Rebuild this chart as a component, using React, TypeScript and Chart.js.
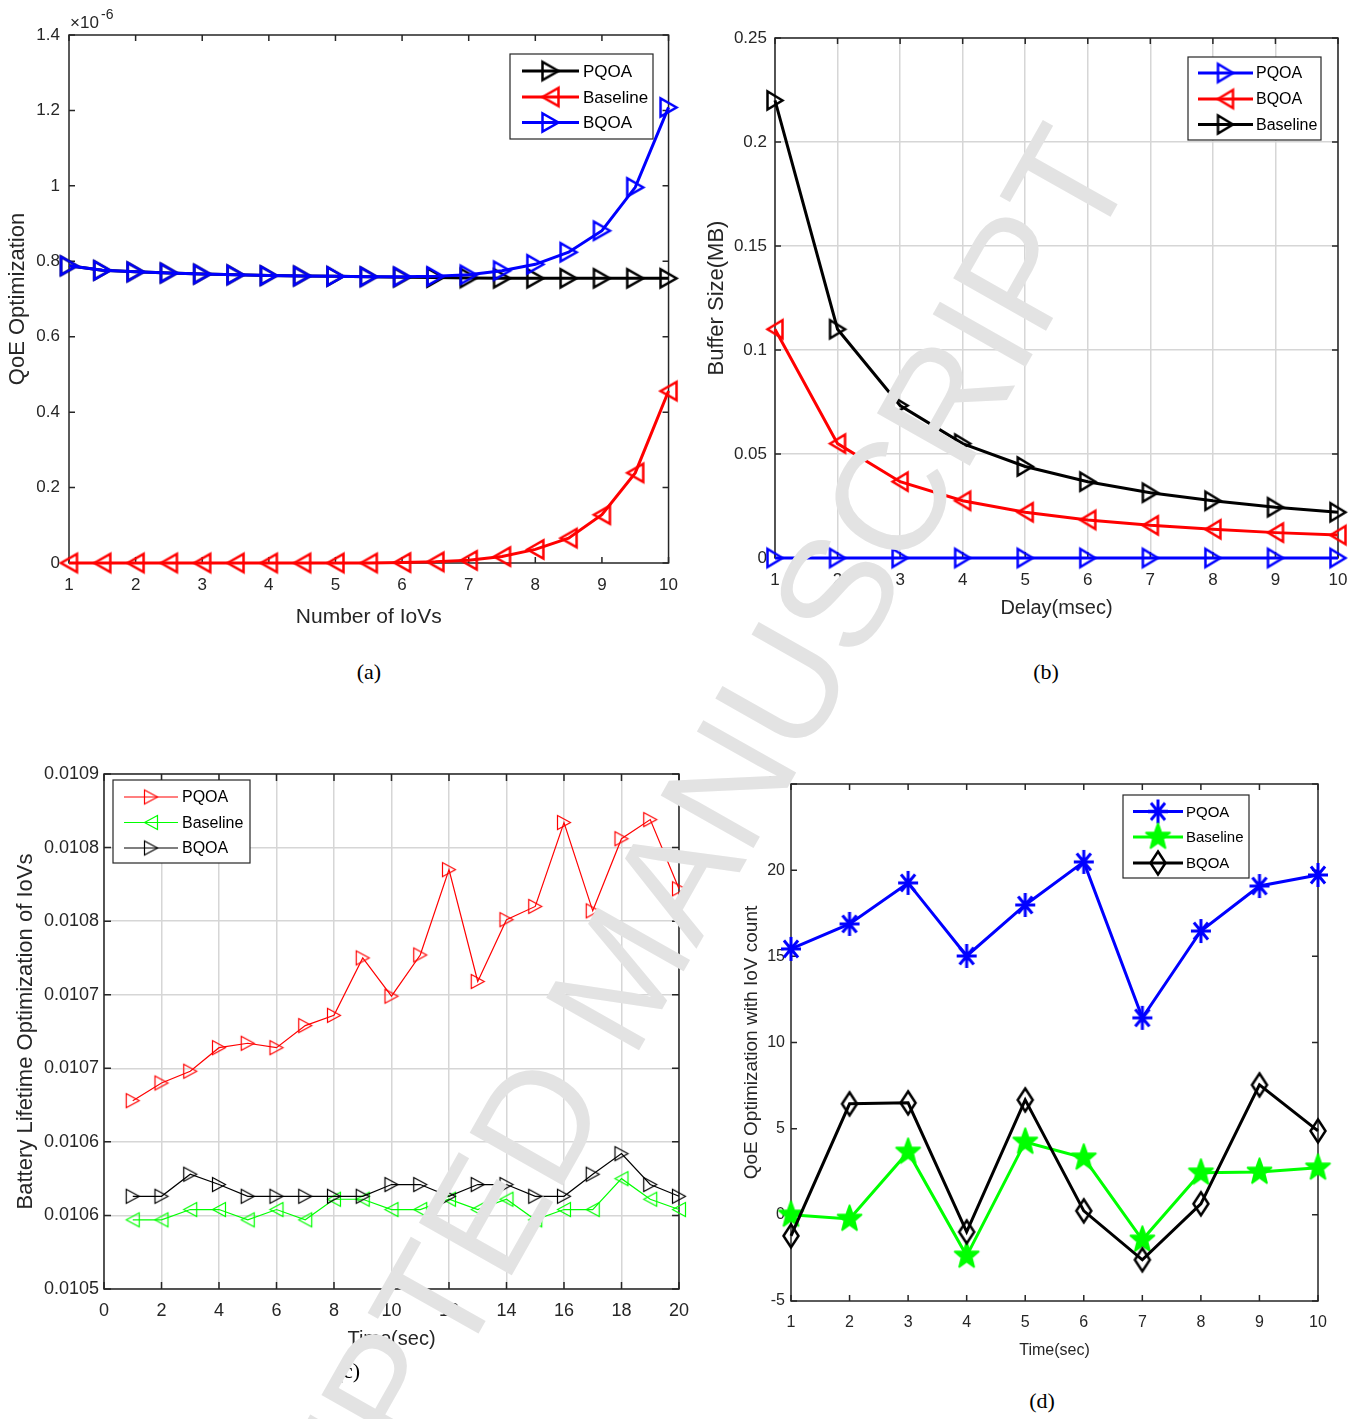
import React, { useEffect, useRef } from 'react';
import { Chart, registerables } from 'chart.js';

Chart.register(...registerables);

// ---------------- Panel (a): QoE vs number of IoVs (values in units of 1e-6) ----------------
const iovCounts = [1, 1.5, 2, 2.5, 3, 3.5, 4, 4.5, 5, 5.5, 6, 6.5, 7, 7.5, 8, 8.5, 9, 9.5, 10];
const qoePQOA = [0.788, 0.776, 0.772, 0.769, 0.766, 0.764, 0.762, 0.761, 0.76, 0.759, 0.758, 0.757, 0.756, 0.755, 0.755, 0.755, 0.755, 0.755, 0.755];
const qoeBaseline = [0, 0, 0, 0, 0, 0, 0, 0, 0, 0, 0.001, 0.003, 0.007, 0.017, 0.036, 0.066, 0.128, 0.239, 0.456];
const qoeBQOA = [0.788, 0.776, 0.772, 0.769, 0.766, 0.764, 0.762, 0.761, 0.76, 0.759, 0.759, 0.76, 0.764, 0.775, 0.792, 0.824, 0.881, 0.996, 1.208];
const qoeXTicks = [1, 2, 3, 4, 5, 6, 7, 8, 9, 10];
const qoeYTicks = [0, 0.2, 0.4, 0.6, 0.8, 1, 1.2, 1.4];
const qoeYLabels = ['0', '0.2', '0.4', '0.6', '0.8', '1', '1.2', '1.4'];

// ---------------- Panel (b): Buffer size vs delay ----------------
const delays = [1, 2, 3, 4, 5, 6, 7, 8, 9, 10];
const bufPQOA = [0, 0, 0, 0, 0, 0, 0, 0, 0, 0];
const bufBQOA = [0.11, 0.055, 0.0367, 0.0275, 0.022, 0.0183, 0.0157, 0.0138, 0.0122, 0.011];
const bufBaseline = [0.22, 0.11, 0.0733, 0.055, 0.044, 0.0367, 0.0314, 0.0275, 0.0244, 0.022];
const bufXTicks = [1, 2, 3, 4, 5, 6, 7, 8, 9, 10];
const bufYTicks = [0, 0.05, 0.1, 0.15, 0.2, 0.25];
const bufYLabels = ['0', '0.05', '0.1', '0.15', '0.2', '0.25'];

// ---------------- Panel (c): Battery lifetime vs time ----------------
const battTimes = [1, 2, 3, 4, 5, 6, 7, 8, 9, 10, 11, 12, 13, 14, 15, 16, 17, 18, 19, 20];
const battPQOA = [0.010628, 0.01064, 0.010648, 0.010664, 0.010667, 0.010664, 0.010679, 0.010686, 0.010725, 0.010699, 0.010727, 0.010785, 0.010709, 0.010751, 0.01076, 0.010817, 0.010757, 0.010806, 0.010819, 0.010772];
const battBaseline = [0.010547, 0.010547, 0.010554, 0.010554, 0.010547, 0.010554, 0.010547, 0.010561, 0.010561, 0.010554, 0.010554, 0.010561, 0.010554, 0.010561, 0.010547, 0.010554, 0.010554, 0.010575, 0.010561, 0.010554];
const battBQOA = [0.010563, 0.010563, 0.010578, 0.010571, 0.010563, 0.010563, 0.010563, 0.010563, 0.010563, 0.010571, 0.010571, 0.010563, 0.010571, 0.010571, 0.010563, 0.010563, 0.010578, 0.010592, 0.010571, 0.010563];
const battXTicks = [0, 2, 4, 6, 8, 10, 12, 14, 16, 18, 20];
const battYTicks = [0.0105, 0.01055, 0.0106, 0.01065, 0.0107, 0.01075, 0.0108, 0.01085];
const battYLabels = ['0.0105', '0.0106', '0.0106', '0.0107', '0.0107', '0.0108', '0.0108', '0.0109'];

// ---------------- Panel (d): QoE with IoV count vs time ----------------
const countTimes = [1, 2, 3, 4, 5, 6, 7, 8, 9, 10];
const countPQOA = [15.43, 16.88, 19.26, 15.02, 17.98, 20.48, 11.43, 16.47, 19.08, 19.72];
const countBaseline = [0.0, -0.24, 3.65, -2.38, 4.23, 3.31, -1.45, 2.44, 2.49, 2.73];
const countBQOA = [-1.22, 6.44, 6.5, -0.99, 6.67, 0.23, -2.61, 0.64, 7.54, 4.87];
const countXTicks = [1, 2, 3, 4, 5, 6, 7, 8, 9, 10];
const countYTicks = [-5, 0, 5, 10, 15, 20, 25];
const countYLabels = ['-5', '0', '5', '10', '15', '20', '25'];

// ---------------- styling ----------------
const FONT = "'Liberation Sans', Arial, Helvetica, sans-serif";
const AXIS = '#262626';
const GRID = '#d6d6d6';
const BLUE = '#0000ff';
const RED = '#ff0000';
const BLACK = '#000000';
const GREEN = '#00ff00';

type Rect = { x: number; y: number; w: number; h: number };
type Area = { l: number; t: number; r: number; b: number };

function makeMarker(kind: string, w: number, h: number, color: string, lw: number): HTMLCanvasElement {
  const c = document.createElement('canvas');
  const W = Math.ceil(w + lw * 2 + 6);
  const H = Math.ceil(h + lw * 2 + 6);
  c.width = W;
  c.height = H;
  const ctx = c.getContext('2d') as CanvasRenderingContext2D;
  ctx.translate(W / 2, H / 2);
  ctx.strokeStyle = color;
  ctx.fillStyle = color;
  ctx.lineWidth = lw;
  ctx.lineJoin = 'miter';
  const rx = w / 2;
  const ry = h / 2;
  ctx.beginPath();
  if (kind === 'right') {
    ctx.moveTo(rx, 0);
    ctx.lineTo(-rx, -ry);
    ctx.lineTo(-rx, ry);
    ctx.closePath();
    ctx.stroke();
  } else if (kind === 'left') {
    ctx.moveTo(-rx, 0);
    ctx.lineTo(rx, -ry);
    ctx.lineTo(rx, ry);
    ctx.closePath();
    ctx.stroke();
  } else if (kind === 'asterisk') {
    for (let k = 0; k < 4; k++) {
      const a = (k * Math.PI) / 4;
      ctx.moveTo(Math.cos(a) * rx, Math.sin(a) * ry);
      ctx.lineTo(-Math.cos(a) * rx, -Math.sin(a) * ry);
    }
    ctx.stroke();
  } else if (kind === 'pentagram') {
    for (let k = 0; k < 10; k++) {
      const a = -Math.PI / 2 + (k * Math.PI) / 5;
      const rr = k % 2 === 0 ? 1 : 0.42;
      const px = Math.cos(a) * rx * rr;
      const py = Math.sin(a) * ry * rr;
      if (k === 0) ctx.moveTo(px, py);
      else ctx.lineTo(px, py);
    }
    ctx.closePath();
    ctx.fill();
    ctx.lineJoin = 'round';
    ctx.stroke();
  } else if (kind === 'diamond') {
    ctx.moveTo(0, -ry);
    ctx.lineTo(rx, 0);
    ctx.lineTo(0, ry);
    ctx.lineTo(-rx, 0);
    ctx.closePath();
    ctx.stroke();
  }
  return c;
}

type Series = { label: string; xs: number[]; ys: number[]; color: string; width: number; marker: HTMLCanvasElement };

type PanelSpec = {
  canvas: Rect;
  area: Area;
  xMin: number;
  xMax: number;
  xTicks: number[];
  yMin: number;
  yMax: number;
  yTicks: number[];
  yLabels: string[];
  grid: boolean;
  tickFont: number;
  xPad: number;
  yPad: number;
  xTitle: string;
  xTitleFont: number;
  xTitleCy: number;
  yTitle: string;
  yTitleFont: number;
  yTitleCx: number;
  tickLen: number;
  series: Series[];
  legend: { box: Rect; rows: number[]; line: [number, number]; textX: number; font: number };
  extra?: (ctx: CanvasRenderingContext2D) => void;
};

function buildChart(el: HTMLCanvasElement, s: PanelSpec): Chart {
  const cv = s.canvas;
  const local = { l: s.area.l - cv.x, t: s.area.t - cv.y, r: s.area.r - cv.x, b: s.area.b - cv.y };
  const yAxisW = local.l;
  const xAxisH = cv.h - local.b;
  const xLh = s.xTitleFont * 1.2;
  const yLh = s.yTitleFont * 1.2;
  const n = s.series.length;

  const frame = {
    id: 'matlabFrame',
    beforeDatasetsDraw(chart: any) {
      const { ctx, chartArea: a, scales } = chart;
      ctx.save();
      ctx.strokeStyle = AXIS;
      ctx.lineWidth = 1.5;
      ctx.strokeRect(a.left, a.top, a.right - a.left, a.bottom - a.top);
      const L = s.tickLen;
      ctx.beginPath();
      for (const v of s.xTicks) {
        const px = scales.x.getPixelForValue(v);
        ctx.moveTo(px, a.bottom);
        ctx.lineTo(px, a.bottom - L);
        ctx.moveTo(px, a.top);
        ctx.lineTo(px, a.top + L);
      }
      for (const v of s.yTicks) {
        const py = scales.y.getPixelForValue(v);
        ctx.moveTo(a.left, py);
        ctx.lineTo(a.left + L, py);
        ctx.moveTo(a.right, py);
        ctx.lineTo(a.right - L, py);
      }
      ctx.stroke();
      ctx.restore();
    },
    afterDatasetsDraw(chart: any) {
      const ctx: CanvasRenderingContext2D = chart.ctx;
      const lg = s.legend;
      ctx.save();
      const bx = lg.box.x - cv.x;
      const by = lg.box.y - cv.y;
      ctx.fillStyle = '#ffffff';
      ctx.fillRect(bx, by, lg.box.w, lg.box.h);
      ctx.strokeStyle = AXIS;
      ctx.lineWidth = 1.2;
      ctx.strokeRect(bx, by, lg.box.w, lg.box.h);
      s.series.forEach((it, i) => {
        const ry = lg.rows[i] - cv.y;
        const x1 = lg.line[0] - cv.x;
        const x2 = lg.line[1] - cv.x;
        ctx.strokeStyle = it.color;
        ctx.lineWidth = it.width;
        ctx.beginPath();
        ctx.moveTo(x1, ry);
        ctx.lineTo(x2, ry);
        ctx.stroke();
        const m = it.marker;
        ctx.drawImage(m, (x1 + x2) / 2 - m.width / 2, ry - m.height / 2);
        ctx.fillStyle = '#000000';
        ctx.font = `${lg.font}px ${FONT}`;
        ctx.textBaseline = 'middle';
        ctx.textAlign = 'left';
        ctx.fillText(it.label, lg.textX - cv.x, ry + 1);
      });
      ctx.restore();
    },
    afterDraw(chart: any) {
      if (s.extra) {
        chart.ctx.save();
        s.extra(chart.ctx);
        chart.ctx.restore();
      }
    },
  };

  return new Chart(el, {
    type: 'line',
    data: {
      datasets: s.series.map((it, i) => ({
        label: it.label,
        data: it.xs.map((x, j) => ({ x, y: it.ys[j] })),
        borderColor: it.color,
        backgroundColor: it.color,
        borderWidth: it.width,
        pointStyle: it.marker as any,
        pointRadius: 8,
        pointHoverRadius: 8,
        tension: 0,
        clip: false as any,
        order: n - 1 - i,
      })),
    },
    options: {
      animation: false,
      responsive: false,
      devicePixelRatio: 1,
      events: [],
      layout: { padding: { top: local.t, right: cv.w - local.r, left: 0, bottom: 0 } },
      plugins: { legend: { display: false }, tooltip: { enabled: false } },
      scales: {
        x: {
          type: 'linear',
          min: s.xMin,
          max: s.xMax,
          afterBuildTicks: (sc: any) => {
            sc.ticks = s.xTicks.map((v) => ({ value: v }));
          },
          afterFit: (sc: any) => {
            sc.height = xAxisH;
          },
          grid: { display: s.grid, drawTicks: false, color: GRID, lineWidth: 1.5 },
          border: { display: false },
          ticks: {
            padding: s.xPad,
            color: AXIS,
            maxRotation: 0,
            autoSkip: false,
            font: { family: FONT, size: s.tickFont },
            callback: (_v: any, i: number) => String(s.xTicks[i]),
          },
          title: {
            display: true,
            text: s.xTitle,
            color: AXIS,
            font: { family: FONT, size: s.xTitleFont },
            padding: { top: 0, bottom: cv.h - xLh / 2 - (s.xTitleCy - cv.y) },
          },
        },
        y: {
          type: 'linear',
          min: s.yMin,
          max: s.yMax,
          afterBuildTicks: (sc: any) => {
            sc.ticks = s.yTicks.map((v) => ({ value: v }));
          },
          afterFit: (sc: any) => {
            sc.width = yAxisW;
          },
          grid: { display: s.grid, drawTicks: false, color: GRID, lineWidth: 1.5 },
          border: { display: false },
          ticks: {
            padding: s.yPad,
            color: AXIS,
            autoSkip: false,
            font: { family: FONT, size: s.tickFont },
            callback: (_v: any, i: number) => s.yLabels[i],
          },
          title: {
            display: true,
            text: s.yTitle,
            color: AXIS,
            font: { family: FONT, size: s.yTitleFont },
            padding: { top: s.yTitleCx - cv.x - yLh / 2, bottom: 0 },
          },
        },
      },
    } as any,
    plugins: [frame as any],
  });
}

const captionStyle = (cx: number, cy: number): React.CSSProperties => ({
  position: 'absolute',
  left: cx - 40,
  width: 80,
  top: cy - 14,
  lineHeight: '24px',
  textAlign: 'center',
  fontFamily: "'Liberation Serif', 'Times New Roman', serif",
  fontSize: 22,
  color: '#000',
});

export default function App() {
  const refA = useRef<HTMLCanvasElement>(null);
  const refB = useRef<HTMLCanvasElement>(null);
  const refC = useRef<HTMLCanvasElement>(null);
  const refD = useRef<HTMLCanvasElement>(null);

  useEffect(() => {
    const charts: Chart[] = [];

    const specA: PanelSpec = {
      canvas: { x: 0, y: 0, w: 690, h: 640 },
      area: { l: 69, t: 35, r: 671, b: 563 },
      xMin: 1, xMax: 10, xTicks: qoeXTicks,
      yMin: 0, yMax: 1.4, yTicks: qoeYTicks, yLabels: qoeYLabels,
      grid: false, tickFont: 17, xPad: 12, yPad: 9,
      xTitle: 'Number of IoVs', xTitleFont: 21, xTitleCy: 617,
      yTitle: 'QoE Optimization', yTitleFont: 22, yTitleCx: 18,
      tickLen: 6,
      series: [
        { label: 'PQOA', xs: iovCounts, ys: qoePQOA, color: BLACK, width: 3, marker: makeMarker('right', 16, 18, BLACK, 2.5) },
        { label: 'Baseline', xs: iovCounts, ys: qoeBaseline, color: RED, width: 3, marker: makeMarker('left', 16, 18, RED, 2.5) },
        { label: 'BQOA', xs: iovCounts, ys: qoeBQOA, color: BLUE, width: 3, marker: makeMarker('right', 16, 18, BLUE, 2.5) },
      ],
      legend: { box: { x: 510, y: 54, w: 143, h: 85 }, rows: [71, 97, 122.5], line: [522, 579], textX: 583, font: 17 },
      extra: (ctx) => {
        ctx.fillStyle = AXIS;
        ctx.textBaseline = 'alphabetic';
        ctx.textAlign = 'left';
        ctx.font = `17px ${FONT}`;
        ctx.fillText('\u00d710', 70, 28);
        ctx.font = `14px ${FONT}`;
        ctx.fillText('-6', 101, 19);
      },
    };

    const specB: PanelSpec = {
      canvas: { x: 690, y: 0, w: 675, h: 640 },
      area: { l: 775, t: 38, r: 1338, b: 558 },
      xMin: 1, xMax: 10, xTicks: bufXTicks,
      yMin: 0, yMax: 0.25, yTicks: bufYTicks, yLabels: bufYLabels,
      grid: true, tickFont: 17, xPad: 12, yPad: 8,
      xTitle: 'Delay(msec)', xTitleFont: 20, xTitleCy: 608.5,
      yTitle: 'Buffer Size(MB)', yTitleFont: 22, yTitleCx: 717,
      tickLen: 6,
      series: [
        { label: 'PQOA', xs: delays, ys: bufPQOA, color: BLUE, width: 3, marker: makeMarker('right', 15, 18, BLUE, 2.5) },
        { label: 'BQOA', xs: delays, ys: bufBQOA, color: RED, width: 3, marker: makeMarker('left', 15, 18, RED, 2.5) },
        { label: 'Baseline', xs: delays, ys: bufBaseline, color: BLACK, width: 3, marker: makeMarker('right', 15, 18, BLACK, 2.5) },
      ],
      legend: { box: { x: 1188, y: 57, w: 133, h: 83 }, rows: [73, 99, 124.5], line: [1198, 1253], textX: 1256, font: 16 },
    };

    const specC: PanelSpec = {
      canvas: { x: 0, y: 700, w: 700, h: 680 },
      area: { l: 104, t: 774, r: 681, b: 1289 },
      xMin: 0, xMax: 20, xTicks: battXTicks,
      yMin: 0.0105, yMax: 0.01085, yTicks: battYTicks, yLabels: battYLabels,
      grid: true, tickFont: 18, xPad: 11, yPad: 5,
      xTitle: 'Time(sec)', xTitleFont: 20, xTitleCy: 1339,
      yTitle: 'Battery Lifetime Optimization of IoVs', yTitleFont: 22, yTitleCx: 26,
      tickLen: 7,
      series: [
        { label: 'PQOA', xs: battTimes, ys: battPQOA, color: RED, width: 1.2, marker: makeMarker('right', 13, 14, RED, 1.2) },
        { label: 'Baseline', xs: battTimes, ys: battBaseline, color: GREEN, width: 1.2, marker: makeMarker('left', 13, 14, GREEN, 1.2) },
        { label: 'BQOA', xs: battTimes, ys: battBQOA, color: BLACK, width: 1.2, marker: makeMarker('right', 13, 14, BLACK, 1.2) },
      ],
      legend: { box: { x: 113, y: 780, w: 137, h: 83 }, rows: [797, 822.5, 848], line: [124, 178], textX: 182, font: 16 },
    };

    const specD: PanelSpec = {
      canvas: { x: 700, y: 700, w: 665, h: 680 },
      area: { l: 791, t: 784, r: 1318, b: 1301 },
      xMin: 1, xMax: 10, xTicks: countXTicks,
      yMin: -5, yMax: 25, yTicks: countYTicks, yLabels: countYLabels,
      grid: false, tickFont: 16, xPad: 12, yPad: 6,
      xTitle: 'Time(sec)', xTitleFont: 16, xTitleCy: 1351,
      yTitle: 'QoE Optimization with IoV count', yTitleFont: 19, yTitleCx: 752,
      tickLen: 6,
      series: [
        { label: 'PQOA', xs: countTimes, ys: countPQOA, color: BLUE, width: 3, marker: makeMarker('asterisk', 20, 24, BLUE, 3) },
        { label: 'Baseline', xs: countTimes, ys: countBaseline, color: GREEN, width: 3, marker: makeMarker('pentagram', 25, 27, GREEN, 2) },
        { label: 'BQOA', xs: countTimes, ys: countBQOA, color: BLACK, width: 3, marker: makeMarker('diamond', 15, 23, BLACK, 2.5) },
      ],
      legend: { box: { x: 1123, y: 795, w: 126, h: 83 }, rows: [811.5, 837, 863], line: [1133, 1183], textX: 1186, font: 15 },
    };

    const pairs: [HTMLCanvasElement | null, PanelSpec][] = [
      [refA.current, specA],
      [refB.current, specB],
      [refC.current, specC],
      [refD.current, specD],
    ];
    for (const [el, spec] of pairs) {
      if (el) charts.push(buildChart(el, spec));
    }
    return () => {
      charts.forEach((c) => c.destroy());
    };
  }, []);

  const canvasStyle = (x: number, y: number, w: number, h: number): React.CSSProperties => ({
    position: 'absolute',
    left: x,
    top: y,
    width: w,
    height: h,
  });

  return (
    <div style={{ position: 'absolute', left: 0, top: 0, width: 1365, height: 1419, background: '#ffffff', overflow: 'hidden' }}>
      <canvas ref={refA} width={690} height={640} style={canvasStyle(0, 0, 690, 640)} />
      <canvas ref={refB} width={675} height={640} style={canvasStyle(690, 0, 675, 640)} />
      <canvas ref={refC} width={700} height={680} style={canvasStyle(0, 700, 700, 680)} />
      <canvas ref={refD} width={665} height={680} style={canvasStyle(700, 700, 665, 680)} />
      <div style={captionStyle(369, 674)}>(a)</div>
      <div style={captionStyle(1046, 674)}>(b)</div>
      <div style={captionStyle(348, 1373)}>(c)</div>
      <div style={captionStyle(1042, 1403)}>(d)</div>
      <div
        style={{
          position: 'absolute',
          left: 620,
          top: 975,
          transform: 'translate(-50%, -50%) rotate(-60.5deg)',
          fontFamily: FONT,
          fontSize: 155,
          lineHeight: 1,
          whiteSpace: 'nowrap',
          color: '#e3e3e3',
          pointerEvents: 'none',
        }}
      >
        ACCEPTED MANUSCRIPT
      </div>
    </div>
  );
}
